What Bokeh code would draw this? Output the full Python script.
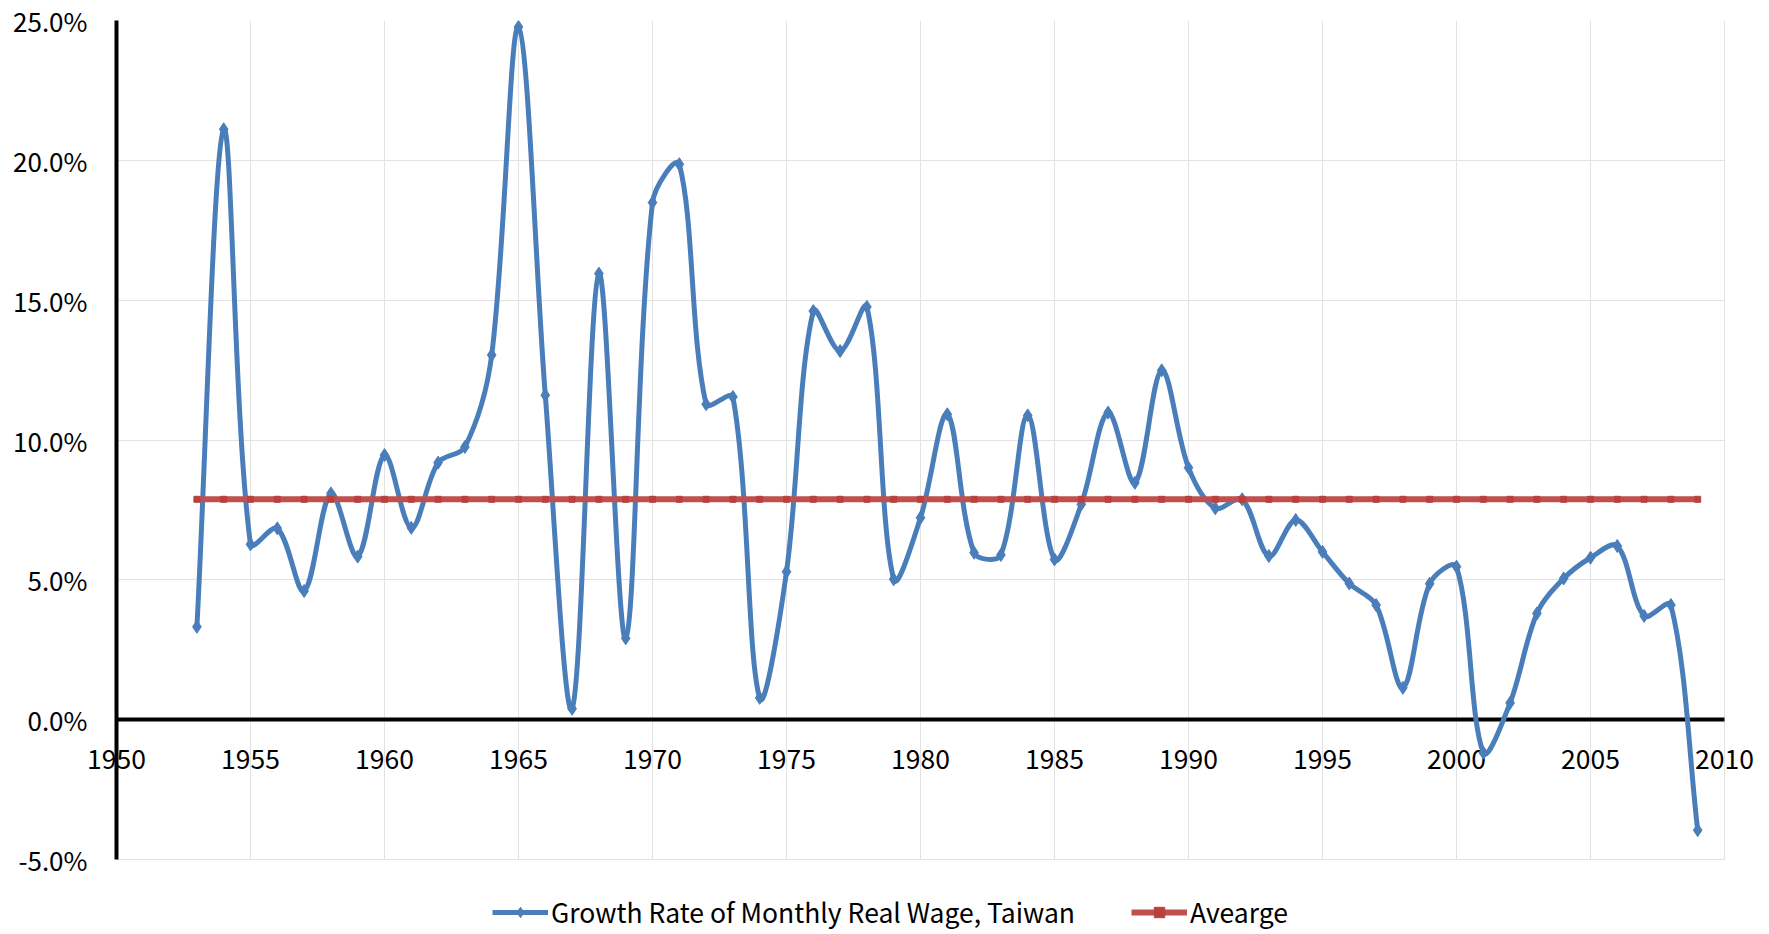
import math
from bokeh.plotting import figure
from bokeh.models import (Range1d, FixedTicker, PrintfTickFormatter, Legend, LegendItem,
                          ColumnDataSource, Grid)
from bokeh.core.properties import value
from bokeh.embed import file_html
from bokeh.resources import INLINE

# ---------------- data ----------------
years = list(range(1953, 2010))
growth = [3.32, 21.11, 6.27, 6.84, 4.60, 8.09, 5.83, 9.46, 6.86, 9.19,
          9.75, 13.04, 24.77, 11.60, 0.39, 15.95, 2.91, 18.49, 19.86, 11.28,
          11.54, 0.78, 5.29, 14.61, 13.18, 14.76, 5.02, 7.22, 10.92, 5.97,
          5.89, 10.88, 5.73, 7.70, 10.98, 8.47, 12.49, 9.01, 7.56, 7.88,
          5.85, 7.14, 6.00, 4.87, 4.10, 1.14, 4.86, 5.47, -1.18, 0.60,
          3.80, 5.05, 5.79, 6.21, 3.71, 4.10, -3.95]
AVERAGE_VALUE = 7.88
average = [AVERAGE_VALUE for _ in years]
x_ticks = [1950, 1955, 1960, 1965, 1970, 1975, 1980, 1985, 1990, 1995, 2000, 2005, 2010]
y_ticks = [-5, 0, 5, 10, 15, 20, 25]
x_labels = [str(t) for t in x_ticks]
series_names = ["Growth Rate of Monthly Real Wage, Taiwan", "Avearge"]

BLUE = "#4a7ebb"
RED = "#c0504d"
RED_MARK = "#b8413e"
FONT = "Noto Sans CJK KR"

# layout (pixels)
W, H = 1769, 934
FRAME_L, FRAME_R, FRAME_T, FRAME_B = 84, 1756, 20, 934
X0, X1 = 1950, 2010          # data extent of the plot area
Y0, Y1 = -5, 25
PX_X = (1724 - 116) / (X1 - X0)   # pixels per year
PX_Y = (859 - 20) / (Y1 - Y0)     # pixels per percentage point
xr = Range1d(X0 - (116 - FRAME_L) / PX_X, X1 + (FRAME_R - 1724) / PX_X)
yr = Range1d(Y0 - (FRAME_B - 859) / PX_Y, Y1)

# smoothed (Excel-like) curve: cubic Bezier segments, tangents scaled by segment lengths
n = len(years)
def seglen(i, j):
    return math.hypot((years[j] - years[i]) * PX_X, (growth[j] - growth[i]) * PX_Y)

cin, cout = [], []
for i in range(n):
    im, ip = max(i - 1, 0), min(i + 1, n - 1)
    dx, dy = years[ip] - years[im], growth[ip] - growth[im]
    lm = seglen(im, i) if i > 0 else 0.0
    lp = seglen(i, ip) if i < n - 1 else 0.0
    tot = (lm + lp) or 1.0
    s = 1.0 / 3.0
    cout.append((years[i] + dx * s * lp / tot, growth[i] + dy * s * lp / tot))
    cin.append((years[i] - dx * s * lm / tot, growth[i] - dy * s * lm / tot))

seg = dict(x0=years[:-1], y0=growth[:-1], x1=years[1:], y1=growth[1:],
           cx0=[c[0] for c in cout[:-1]], cy0=[c[1] for c in cout[:-1]],
           cx1=[c[0] for c in cin[1:]], cy1=[c[1] for c in cin[1:]])

p = figure(width=W, height=H, output_backend="svg", toolbar_location=None,
           x_range=xr, y_range=yr, x_axis_location=None,
           min_border_left=FRAME_L, min_border_right=W - FRAME_R,
           min_border_top=FRAME_T, min_border_bottom=H - FRAME_B)
p.outline_line_color = None
p.background_fill_color = "white"
p.border_fill_color = "white"

# grid
p.xgrid.ticker = FixedTicker(ticks=x_ticks)
p.xgrid.cross_bounds = (Y0, Y1)
p.ygrid.ticker = FixedTicker(ticks=y_ticks)
p.ygrid.cross_bounds = (X0, X1)
for g in (p.xgrid, p.ygrid):
    g.grid_line_color = "#e2e2e2"
    g.grid_line_width = 1

# horizontal axis line at 0
zero = Grid(dimension=1, ticker=FixedTicker(ticks=[0]), cross_bounds=(X0, X1),
            grid_line_color="black", grid_line_width=4)
p.add_layout(zero)

# y axis (labels only; its line is drawn at 1950 below)
ya = p.yaxis[0]
ya.ticker = FixedTicker(ticks=y_ticks)
ya.formatter = PrintfTickFormatter(format="%.1f%%")
ya.axis_line_color = None
ya.major_tick_line_color = None
ya.minor_tick_line_color = None
ya.major_tick_out = 0
ya.major_tick_in = 0
ya.major_label_standoff = -3
ya.major_label_text_font = FONT
ya.major_label_text_font_size = "26px"
ya.major_label_text_color = "black"

# x tick labels under the zero line
p.text(x=x_ticks, y=[0] * len(x_ticks), text=x_labels, text_font=value(FONT),
       text_font_size=value("26.5px"), text_color="black", text_align="center",
       text_baseline="middle", y_offset=39)

# blue smoothed series
src = ColumnDataSource(seg)
p.bezier(x0="x0", y0="y0", x1="x1", y1="y1", cx0="cx0", cy0="cy0", cx1="cx1", cy1="cy1",
         source=src, line_color=BLUE, line_width=5, line_cap="round")
blue_pts = p.scatter(years, growth, marker="diamond", size=13,
                     fill_color=BLUE, line_color=BLUE)
# one-point line: draws nothing in the plot, only supplies the legend's line sample
blue_key = p.line(years[:1], growth[:1], line_color=BLUE, line_width=5)

# average series
red_line = p.line(years, average, line_color=RED, line_width=6)
red_pts = p.scatter(years, average, marker="square", size=6, fill_color=RED_MARK, line_color=RED_MARK)

# vertical axis line at 1950 (drawn over the "1950" label like the original)
yline = Grid(dimension=0, ticker=FixedTicker(ticks=[X0]), cross_bounds=(Y0, Y1),
             grid_line_color="black", grid_line_width=4, level="overlay")
p.add_layout(yline)

legend = Legend(items=[LegendItem(label=series_names[0], renderers=[blue_key, blue_pts]),
                       LegendItem(label=series_names[1], renderers=[red_line, red_pts])],
                orientation="horizontal", location=(492 - FRAME_L, 3),
                glyph_width=56, glyph_height=26, label_standoff=3, spacing=56,
                padding=0, margin=0, border_line_color=None, background_fill_alpha=0,
                label_text_font=FONT, label_text_font_size="26.5px", label_text_color="black",
                label_height=26)
p.add_layout(legend, "center")

open("out.html", "w").write(file_html(p, INLINE))
